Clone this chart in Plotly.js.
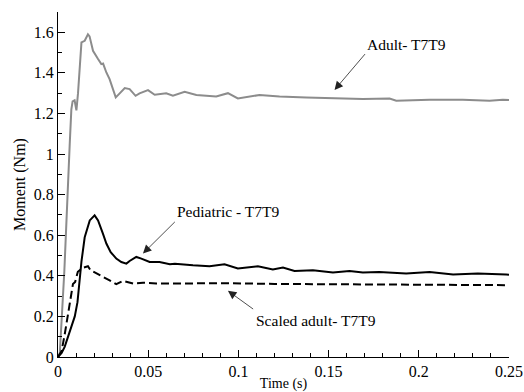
<!DOCTYPE html>
<html>
<head>
<meta charset="utf-8">
<script src="https://cdn.plot.ly/plotly-3.0.1.min.js"></script>
<style>
  html, body { margin: 0; padding: 0; background: #fff; }
  #chart { width: 524px; height: 392px; }
</style>
</head>
<body>
<div id="chart"></div>
<script>
// Moment at T7T9 over time, three loading cases
const adultTime = [0, 0.001, 0.0035, 0.0055, 0.0065, 0.0074, 0.0081, 0.0092, 0.0098, 0.0102, 0.0111, 0.012, 0.013, 0.0148, 0.0166, 0.0175, 0.0194, 0.0222, 0.024, 0.025, 0.0268, 0.0286, 0.032, 0.0342, 0.037, 0.0397, 0.043, 0.0452, 0.0499, 0.0536, 0.060, 0.0637, 0.0702, 0.0767, 0.0877, 0.0942, 0.0997, 0.1117, 0.1228, 0.1376, 0.1542, 0.169, 0.1838, 0.1875, 0.206, 0.2244, 0.2392, 0.2466, 0.25];
const adultMoment = [0, 0.02, 0.42, 0.79, 1.05, 1.22, 1.26, 1.265, 1.24, 1.215, 1.30, 1.427, 1.55, 1.558, 1.59, 1.58, 1.509, 1.468, 1.443, 1.446, 1.402, 1.369, 1.279, 1.299, 1.325, 1.32, 1.287, 1.299, 1.315, 1.292, 1.299, 1.287, 1.307, 1.291, 1.284, 1.30, 1.274, 1.291, 1.284, 1.279, 1.274, 1.271, 1.274, 1.263, 1.268, 1.268, 1.263, 1.268, 1.266];

const pedTime = [0, 0.002, 0.0037, 0.0065, 0.0093, 0.0108, 0.012, 0.013, 0.0148, 0.016, 0.0176, 0.0203, 0.0222, 0.0249, 0.0268, 0.0292, 0.0323, 0.0351, 0.0379, 0.0397, 0.0434, 0.0462, 0.0508, 0.0563, 0.062, 0.0648, 0.0674, 0.0748, 0.084, 0.0923, 0.0997, 0.1108, 0.1191, 0.1247, 0.1311, 0.1413, 0.1524, 0.1616, 0.169, 0.178, 0.193, 0.206, 0.219, 0.2327, 0.2484, 0.25];
const pedMoment = [0, 0.02, 0.05, 0.12, 0.2, 0.27, 0.38, 0.47, 0.59, 0.63, 0.673, 0.698, 0.673, 0.608, 0.559, 0.517, 0.485, 0.468, 0.46, 0.473, 0.493, 0.485, 0.468, 0.468, 0.457, 0.46, 0.457, 0.452, 0.447, 0.457, 0.436, 0.447, 0.431, 0.441, 0.424, 0.428, 0.416, 0.424, 0.416, 0.419, 0.411, 0.419, 0.406, 0.411, 0.406, 0.405];

const scaledTime = [0, 0.002, 0.0037, 0.0055, 0.0083, 0.0095, 0.011, 0.0139, 0.0166, 0.018, 0.0213, 0.0249, 0.0286, 0.0323, 0.036, 0.0416, 0.0471, 0.0545, 0.0674, 0.09, 0.12, 0.15, 0.18, 0.21, 0.25];
const scaledMoment = [0, 0.03, 0.11, 0.2, 0.36, 0.37, 0.42, 0.44, 0.447, 0.428, 0.411, 0.395, 0.378, 0.359, 0.375, 0.362, 0.366, 0.362, 0.362, 0.364, 0.36, 0.358, 0.357, 0.356, 0.354];

// Callout labels: text position, arrow start and arrow tip (data units)
const labelText = ['Adult- T7T9', 'Pediatric - T7T9', 'Scaled adult- T7T9'];
const labelX = [0.193, 0.094, 0.143];
const labelY = [1.541, 0.717, 0.182];
const arrowFromX = [0.1709, 0.0656, 0.109];
const arrowFromY = [1.50, 0.673, 0.231];
const arrowToX = [0.1533, 0.0471, 0.0942];
const arrowToY = [1.316, 0.51, 0.326];

const SERIF = '"Liberation Serif", "Times New Roman", serif';

const traces = [
  { x: adultTime, y: adultMoment, type: 'scatter', mode: 'lines',
    line: { color: '#8c8c8c', width: 2 } },
  { x: pedTime, y: pedMoment, type: 'scatter', mode: 'lines',
    line: { color: '#000', width: 2 } },
  { x: scaledTime, y: scaledMoment, type: 'scatter', mode: 'lines',
    line: { color: '#000', width: 2, dash: '8px,4px' } }
];

const annotations = [];
labelText.forEach((t, i) => {
  annotations.push({
    x: labelX[i], y: labelY[i], xref: 'x', yref: 'y', text: t,
    showarrow: false, font: { family: SERIF, size: 15.5, color: '#000' }
  });
  annotations.push({
    x: arrowToX[i], y: arrowToY[i], xref: 'x', yref: 'y',
    ax: arrowFromX[i], ay: arrowFromY[i], axref: 'x', ayref: 'y',
    text: '', showarrow: true, arrowhead: 2, arrowsize: 2.1,
    arrowwidth: 0.8, arrowcolor: '#222', standoff: 0, startstandoff: 0
  });
});

const axisCommon = {
  showline: true, linecolor: '#000', linewidth: 1,
  showgrid: false, zeroline: false,
  ticks: 'inside', ticklen: 7, tickwidth: 1, tickcolor: '#000',
  tickfont: { family: SERIF, size: 16, color: '#000' }
};

const layout = {
  width: 524, height: 392,
  margin: { l: 58, r: 15, t: 12, b: 35 },
  paper_bgcolor: '#fff', plot_bgcolor: '#fff',
  font: { family: SERIF, color: '#000' },
  showlegend: false,
  xaxis: Object.assign({}, axisCommon, {
    range: [0, 0.25], tick0: 0, dtick: 0.05,
    minor: { dtick: 0.01, ticks: 'inside', ticklen: 4, tickcolor: '#000', showgrid: false },
    title: { text: 'Time (s)', font: { family: SERIF, size: 14 }, standoff: 3 }
  }),
  yaxis: Object.assign({}, axisCommon, {
    range: [0, 1.7], tick0: 0, dtick: 0.2,
    minor: { dtick: 0.1, ticks: 'inside', ticklen: 4, tickcolor: '#000', showgrid: false },
    title: { text: 'Moment (Nm)', font: { family: SERIF, size: 16 }, standoff: 4 }
  }),
  annotations: annotations
};

Plotly.newPlot('chart', traces, layout, { displayModeBar: false, staticPlot: true });
</script>
</body>
</html>
